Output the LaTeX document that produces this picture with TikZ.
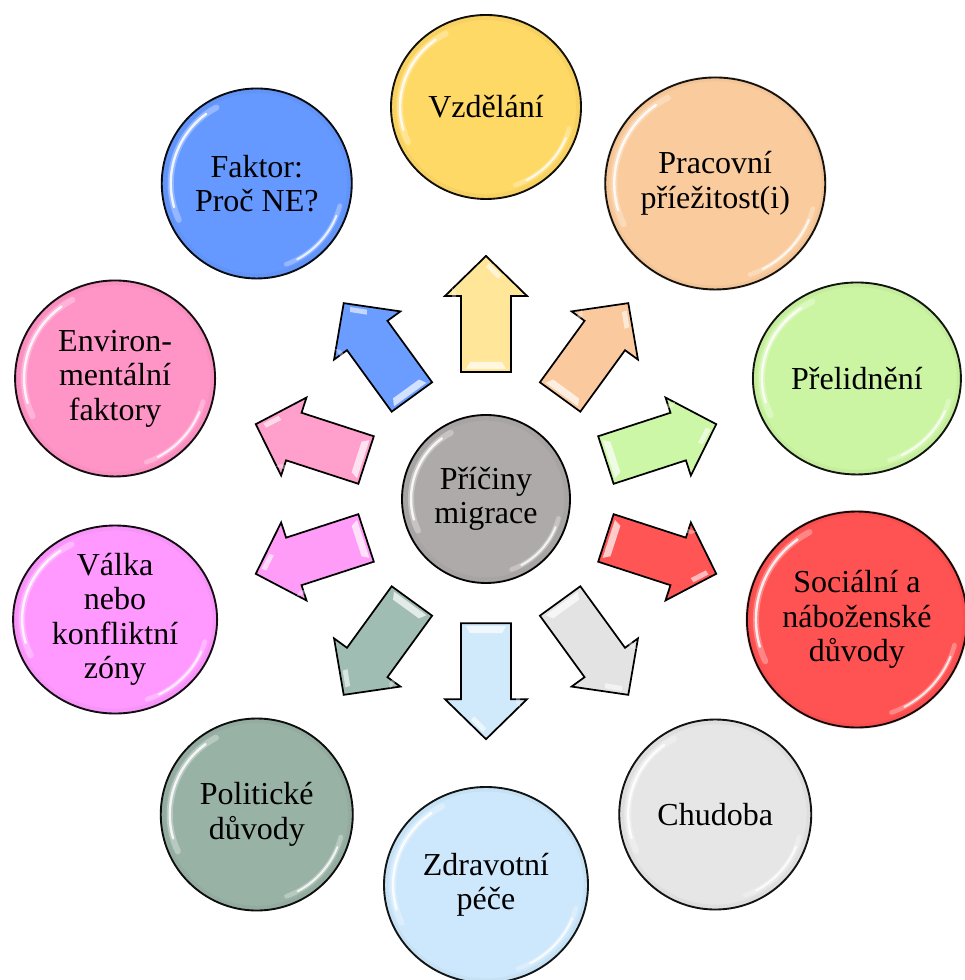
\documentclass[tikz,border=0pt]{standalone}
\usepackage{fontspec}
\setmainfont{Liberation Serif}
\usetikzlibrary{shapes.geometric,calc}
\definecolor{vzC}{HTML}{FFD966}\definecolor{vzA}{HTML}{FFE699}
\definecolor{prC}{HTML}{FACB9C}\definecolor{prA}{HTML}{FAC99E}
\definecolor{plC}{HTML}{CCF5A3}\definecolor{plA}{HTML}{CCF7A6}
\definecolor{soC}{HTML}{FF5252}\definecolor{soA}{HTML}{FF5555}
\definecolor{chC}{HTML}{E6E6E6}\definecolor{chA}{HTML}{E3E3E3}
\definecolor{zdC}{HTML}{CDE8FC}\definecolor{zdA}{HTML}{D0EAFB}
\definecolor{poC}{HTML}{99B2A6}\definecolor{poA}{HTML}{9FBDB3}
\definecolor{vaC}{HTML}{FF99FF}\definecolor{vaA}{HTML}{FF9CF7}
\definecolor{enC}{HTML}{FF94C6}\definecolor{enA}{HTML}{FF9FCC}
\definecolor{faC}{HTML}{6699FF}\definecolor{faA}{HTML}{6B9CFF}
\definecolor{ctC}{HTML}{AFAAAA}
\tikzset{
  bubble/.style={ellipse, draw=black, line width=1.4pt, inner sep=0pt, align=center,
    font=\fontsize{24}{25.8}\selectfont, text=black},
  blockarr/.style={draw=black, line width=1.3pt, line join=miter},
  gloss/.style={white, line cap=round},
}
\newcommand\bubble[6]{%
  \node[bubble, fill=#5, minimum width={1.5*#3pt}, minimum height={1.5*#4pt}] (#1) at (#2) {#6};
  \pgfmathsetmacro\gx{#3-9}\pgfmathsetmacro\gy{#4-9}%
  \begin{scope}[shift={(#1.center)}, xscale=\gx, yscale=\gy]
    \draw[#5!75!black, opacity=0.12, line width=4pt] (0,0) circle[radius=1.08];
    \draw[gloss, line width=4.5pt, opacity=0.3] (118:1) arc[start angle=118, end angle=205, radius=1];
    \draw[gloss, line width=1.8pt, opacity=0.85] (126:1) arc[start angle=126, end angle=196, radius=1];
    \draw[gloss, line width=3.5pt, opacity=0.3] (290:1) arc[start angle=290, end angle=345, radius=1];
    \draw[gloss, line width=1.5pt, opacity=0.8] (298:1) arc[start angle=298, end angle=338, radius=1];
  \end{scope}
}
\newcommand\blockarrow[4]{%
  \begin{scope}[shift={($(#1)!0.472!(#2)$)}, rotate=#3]
    \draw[blockarr, fill=#4] (-58,-25) -- (18,-25) -- (18,-41) -- (58,0) -- (18,41) -- (18,25) -- (-58,25) -- cycle;
    \fill[white, opacity=0.7] (-55,-20) -- (-48,-16) -- (-48,16) -- (-55,20) -- cycle;
    \fill[white, opacity=0.6] (51,-3) -- (39,-15) -- (35,-12) -- (47,0) -- cycle;
    \fill[white, opacity=0.35] (22,30) -- (26,34) -- (14,34) -- (12,30) -- cycle;
  \end{scope}
}
\begin{document}
\begin{tikzpicture}[x=0.75pt, y=0.75pt]
  \fill[white] (0,0) rectangle (964,980);
  \useasboundingbox (0,0) rectangle (964,980);
  \coordinate (C) at (486,481);
  \bubble{ctr}{C}{84}{84}{ctC}{Příčiny\\migrace}
  \bubble{vz}{$(C)+(90:392)$}{95}{92}{vzC}{Vzdělání}
  \bubble{pr}{$(C)+(54:390)$}{110}{106}{prC}{Pracovní\\příežitost(i)}
  \bubble{pl}{$(C)+(18:390)$}{104}{96}{plC}{Přelidnění}
  \bubble{so}{$(C)+(-18:390)$}{110}{108}{soC}{Sociální a\\náboženské\\důvody}
  \bubble{ch}{$(C)+(-54:390)$}{96}{95}{chC}{Chudoba}
  \bubble{zd}{$(C)+(-90:386)$}{102}{98}{zdC}{Zdravotní\\péče}
  \bubble{po}{$(C)+(234:390)$}{96}{96}{poC}{Politické\\důvody}
  \bubble{va}{$(C)+(198:390)$}{102}{94}{vaC}{Válka\\nebo\\konfliktní\\zóny}
  \bubble{en}{$(C)+(162:390)$}{100}{98}{enC}{Environ-\\mentální\\faktory}
  \bubble{fa}{$(C)+(126:390)$}{95}{95}{faC}{Faktor:\\Proč NE?}
  \blockarrow{ctr}{vz}{90}{vzA}
  \blockarrow{ctr}{pr}{54}{prA}
  \blockarrow{ctr}{pl}{18}{plA}
  \blockarrow{ctr}{so}{-18}{soA}
  \blockarrow{ctr}{ch}{-54}{chA}
  \blockarrow{ctr}{zd}{-90}{zdA}
  \blockarrow{ctr}{po}{234}{poA}
  \blockarrow{ctr}{va}{198}{vaA}
  \blockarrow{ctr}{en}{162}{enA}
  \blockarrow{ctr}{fa}{126}{faA}
\end{tikzpicture}
\end{document}
